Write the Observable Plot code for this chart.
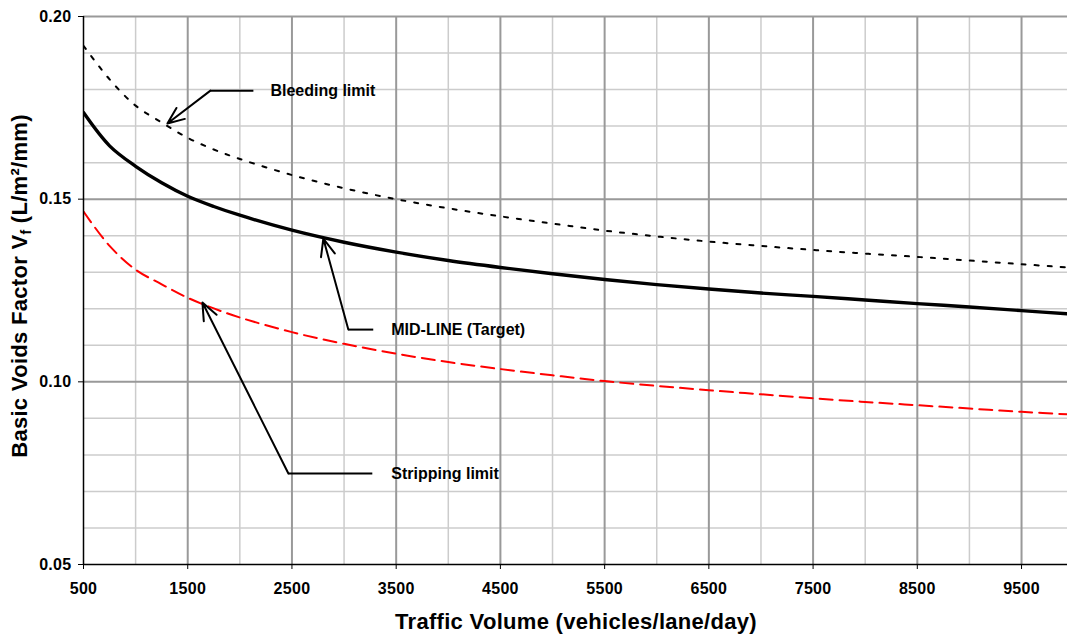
<!DOCTYPE html>
<html>
<head>
<meta charset="utf-8">
<script src="https://cdn.jsdelivr.net/npm/d3@7"></script>
<script src="https://cdn.jsdelivr.net/npm/@observablehq/plot@0.6"></script>
<style>
  html, body { margin: 0; padding: 0; background: #fff; overflow: hidden; }
  #chart g[aria-label="x-axis tick label"], #chart g[aria-label="y-axis tick label"] {
    font-size: 16px; font-weight: bold; letter-spacing: 0.3px;
  }
</style>
</head>
<body>
<div id="chart"></div>
<script>
// ---- data ----
const traffic = [500,750,1000,1250,1500,1750,2000,2500,3000,3500,4000,4500,5000,5500,6000,6500,7000,7500,8000,8500,9000,9500,10000];
const bleedingLimit = [0.1920,0.1828,0.1756,0.1710,0.1668,0.1636,0.1610,0.1566,0.1530,0.1500,0.1475,0.1453,0.1433,0.1414,0.1398,0.1384,0.1372,0.1361,0.1351,0.1342,0.1332,0.1322,0.1312];
const midLine = [0.1737,0.1646,0.1590,0.1545,0.1508,0.1480,0.1456,0.1415,0.1382,0.1355,0.1332,0.1313,0.1296,0.1280,0.1266,0.1254,0.1243,0.1234,0.1224,0.1214,0.1205,0.1195,0.1185];
const strippingLimit = [0.1466,0.1372,0.1307,0.1267,0.1230,0.1201,0.1176,0.1136,0.1104,0.1077,0.1054,0.1035,0.1018,0.1002,0.0989,0.0977,0.0966,0.0955,0.0945,0.0936,0.0927,0.0918,0.0910];

const xTicks = [500,1500,2500,3500,4500,5500,6500,7500,8500,9500];
const xMinor = [1000,2000,3000,4000,5000,6000,7000,8000,9000];
const yTicks = [0.05,0.10,0.15,0.20];
const yMinor = [0.06,0.07,0.08,0.09,0.11,0.12,0.13,0.14,0.16,0.17,0.18,0.19];

const annotations = [
  {label: "Bleeding limit",     tipX: 1305, tipY: 0.1707, elbowX: 1718, elbowY: 0.1797, endX: 2130, textX: 2293},
  {label: "MID-LINE (Target)",  tipX: 2801, tipY: 0.1392, elbowX: 3041, elbowY: 0.1143, endX: 3280, textX: 3453},
  {label: "Stripping limit",    tipX: 1641, tipY: 0.1217, elbowX: 2466, elbowY: 0.0749, endX: 3271, textX: 3453}
];

const xTitle = "Traffic Volume (vehicles/lane/day)";
const yTitleParts = ["Basic Voids Factor V", "f", " (L/m\u00B2/mm)"];

// ---- build tables ----
const rows = traffic.map((t, i) => ({t, bleeding: bleedingLimit[i], mid: midLine[i], strip: strippingLimit[i]}));
const FONT = "'Liberation Sans', Arial, sans-serif";

const chart = Plot.plot({
  width: 1067,
  height: 636,
  marginLeft: 83,
  marginRight: 0,
  marginTop: 16,
  marginBottom: 72,
  style: {fontFamily: FONT, fontSize: "16px", fontWeight: "bold", background: "#fff"},
  x: {domain: [500, 9941], label: null},
  y: {domain: [0.05, 0.20], label: null},
  marks: [
    Plot.ruleX(xMinor, {stroke: "#cccccc", strokeWidth: 1.5}),
    Plot.ruleY(yMinor, {stroke: "#cccccc", strokeWidth: 1.5}),
    Plot.ruleX(xTicks.slice(1), {stroke: "#999999", strokeWidth: 2}),
    Plot.ruleY(yTicks.slice(1), {stroke: "#999999", strokeWidth: 2}),
    Plot.line(rows, {x: "t", y: "strip", stroke: "#ff0000", strokeWidth: 2, strokeDasharray: "13,7", curve: "catmull-rom", clip: true}),
    Plot.line(rows, {x: "t", y: "bleeding", stroke: "#000", strokeWidth: 2, strokeDasharray: "4,9", curve: "catmull-rom", clip: true}),
    Plot.line(rows, {x: "t", y: "mid", stroke: "#000", strokeWidth: 3.4, curve: "catmull-rom", clip: true}),
    Plot.ruleX([500], {stroke: "#000", strokeWidth: 1.5}),
    Plot.ruleY([0.05], {stroke: "#000", strokeWidth: 1.5}),
    Plot.axisX({ticks: xTicks, tickFormat: d => String(d), tickSize: 5, tickPadding: 13, stroke: "#000", fill: "#000"}),
    Plot.axisY({ticks: yTicks, tickFormat: d3.format(".2f"), tickSize: 5, tickPadding: 7, stroke: "#000", fill: "#000"}),
    // annotations
    Plot.link(annotations, {x1: "elbowX", y1: "elbowY", x2: "endX", y2: "elbowY", stroke: "#000", strokeWidth: 2}),
    Plot.arrow(annotations, {x1: "elbowX", y1: "elbowY", x2: "tipX", y2: "tipY", stroke: "#000", strokeWidth: 2, headLength: 14, headAngle: 45}),
    Plot.text(annotations, {x: "textX", y: "elbowY", text: "label", textAnchor: "start", fontSize: 16, fontWeight: "bold", fill: "#000"})
  ]
});

const svg = d3.select(chart);
// x-axis title
svg.append("text")
  .attr("x", 576).attr("y", 629)
  .attr("text-anchor", "middle")
  .attr("font-size", 22).attr("font-weight", "bold").attr("fill", "#000")
  .attr("letter-spacing", "0.3px")
  .attr("font-family", FONT)
  .text(xTitle);
// y-axis title with subscript
const yt = svg.append("text")
  .attr("transform", "translate(27,286) rotate(-90)")
  .attr("text-anchor", "middle")
  .attr("font-size", 22).attr("font-weight", "bold").attr("fill", "#000")
  .attr("letter-spacing", "0.3px")
  .attr("font-family", FONT);
yt.append("tspan").text(yTitleParts[0]);
yt.append("tspan").attr("font-size", 14).attr("dy", 4).text(yTitleParts[1]);
yt.append("tspan").attr("dy", -4).text(yTitleParts[2]);

document.getElementById("chart").appendChild(chart);
</script>
</body>
</html>
